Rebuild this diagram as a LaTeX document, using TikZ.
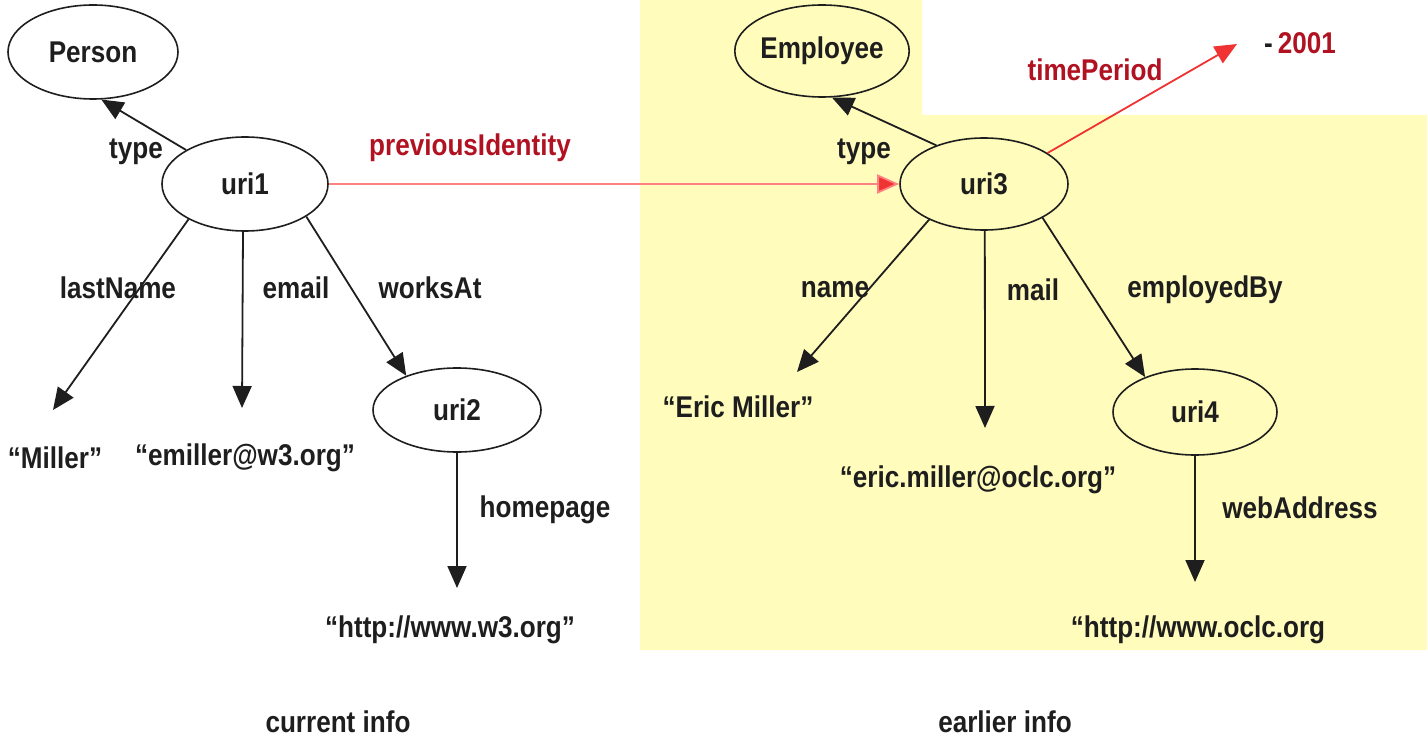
\documentclass[tikz,border=0pt]{standalone}
\usepackage{fontspec}
\setmainfont{Liberation Sans}[FakeStretch=0.87]
\usetikzlibrary{arrows.meta,shapes.geometric}
\definecolor{hilite}{RGB}{255,252,188}
\definecolor{darkred}{RGB}{176,18,34}
\definecolor{pinkline}{RGB}{255,130,130}
\definecolor{redline}{RGB}{240,50,50}
\definecolor{ink}{RGB}{30,30,30}
\tikzset{
  txt/.style={font=\fontsize{30}{34}\selectfont\bfseries, text=ink, inner sep=0pt},
  res/.style={txt, ellipse, draw=ink, line width=1.6pt, inner sep=0pt},
  lit/.style={txt},
  prop/.style={txt},
  rprop/.style={txt, text=darkred},
  edge/.style={draw=ink, line width=1.8pt, -{Triangle[length=22pt,width=19pt]}},
  redge/.style={line width=1.8pt, -{Triangle[length=22pt,width=19pt]}},
}
\begin{document}
\begin{tikzpicture}[x=1pt,y=-1pt]
\useasboundingbox (0,0) rectangle (1427,738);

% shaded area holding the earlier description
\fill[hilite] (640,0) -- (922,0) -- (922,115) -- (1427,115) -- (1427,650) -- (640,650) -- cycle;

% resources
\node[res, minimum width=170pt, minimum height=94pt] (person) at (93,52) {Person};
\node[res, minimum width=166pt, minimum height=94pt] (uri1) at (245,184) {uri1};
\node[res, minimum width=168pt, minimum height=84pt] (uri2) at (457,410) {uri2};
\node[res, minimum width=170pt, minimum height=92pt] (employee) at (822,51) {Employee};
\node[res, minimum width=168pt, minimum height=92pt] (uri3) at (984,184) {uri3};
\node[res, minimum width=164pt, minimum height=86pt] (uri4) at (1195,412) {uri4};

% literals
\node[lit] (miller) at (55,458) {“Miller”};
\node[lit] (emiller) at (245,458) {“emiller@w3.org”};
\node[lit] (w3) at (450,630) {“http://www.w3.org”};
\node[lit] (ericmiller) at (738,407) {“Eric Miller”};
\node[lit] (ericmail) at (978,480) {“eric.miller@oclc.org”};
\node[lit] (oclc) at (1198,630) {“http://www.oclc.org};
\node[rprop] (year) at (1300,43) {{\color{ink}-}\,2001};

% arrow tips above the literals
\coordinate (millerTip) at (53,410);
\coordinate (emillerTip) at (242,408);
\coordinate (w3Tip) at (457,588);
\coordinate (ericmillerTip) at (797,372);
\coordinate (ericmailTip) at (985,428);
\coordinate (oclcTip) at (1195,582);
\coordinate (yearTip) at (1237,44);

% current info
\draw[edge] (uri1.150) -- (person.-80);
\draw[edge] (uri1.212) -- (millerTip);
\draw[edge] (uri1.-90) ++(-2,0) -- (emillerTip);
\draw[edge] (uri1.-28) -- (uri2.146);
\draw[edge] (uri2.south) -- (w3Tip);

% earlier info
\draw[edge] (uri3.141) -- (employee.-78);
\draw[edge] (uri3.213) -- (ericmillerTip);
\draw[edge] (uri3.-89) -- (ericmailTip);
\draw[edge] (uri3.-30) -- (uri4.145);
\draw[edge] (uri4.south) -- (oclcTip);
\draw[redge, draw=redline, fill=redline] (uri3.26) -- (yearTip);

% link between the two descriptions
\draw[redge, draw=pinkline, -{Triangle[length=22pt,width=19pt,fill=redline]}] (uri1.east) -- (uri3.west);

% property labels
\node[prop] (lType1) at (136,152) {type};
\node[prop] (lLast) at (118,288) {lastName};
\node[prop] (lEmail) at (296,288) {email};
\node[prop] (lWorks) at (430,288) {worksAt};
\node[prop] (lHome) at (545,510) {homepage};
\node[prop] (lType3) at (864,152) {type};
\node[prop] (lName) at (835,290) {name};
\node[prop] (lMail) at (1033,290) {mail};
\node[prop] (lEmp) at (1205,290) {employedBy};
\node[prop] (lWeb) at (1300,508) {webAddress};
\node[rprop] (lPrev) at (470,148) {previousIdentity};
\node[rprop] (lTime) at (1095,70) {timePeriod};

% captions
\node[prop] (capCur) at (338,722) {current info};
\node[prop] (capEarl) at (1005,722) {earlier info};
\end{tikzpicture}
\end{document}
